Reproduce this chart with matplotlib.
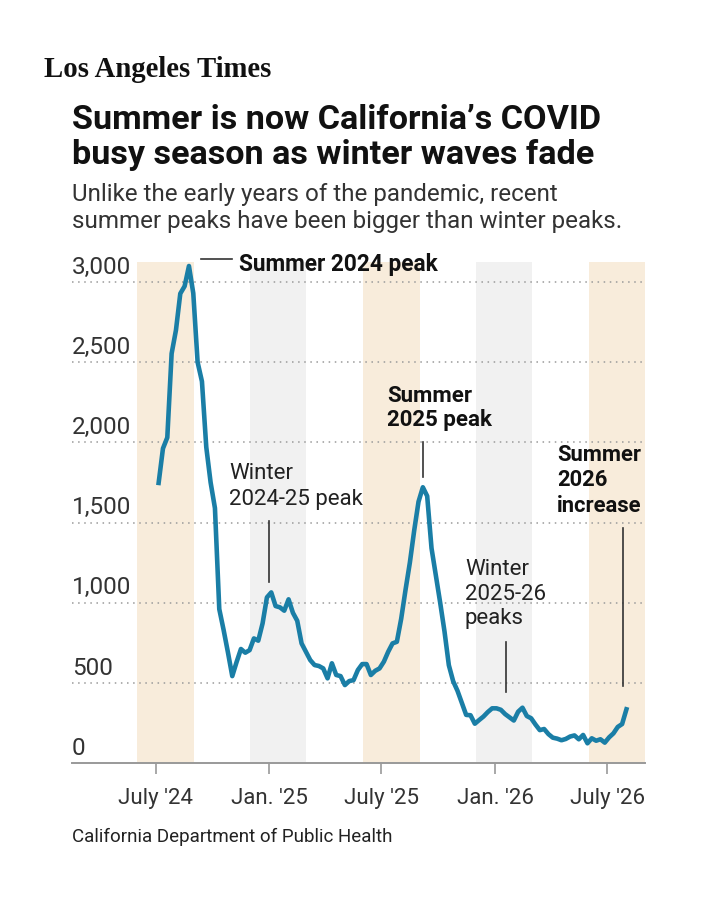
import pandas as pd
import matplotlib
matplotlib.use('Agg')
import matplotlib.pyplot as plt
from matplotlib.lines import Line2D

plt.rcParams['font.family'] = ['Roboto', 'DejaVu Sans']

# weekly COVID values
start_week = '2024-07-06'
covid_values = [
    1747, 1962, 2030, 2554, 2700, 2928, 2974, 3100, 2930, 2500,
    2380, 1970, 1750, 1590, 960, 830, 690, 542, 630, 711,
    688, 704, 777, 763, 871, 1033, 1064, 979, 971, 950,
    1021, 937, 887, 746, 694, 642, 611, 605, 590, 528,
    622, 549, 542, 486, 511, 517, 580, 617, 617, 549,
    575, 590, 632, 694, 746, 756, 900, 1080, 1250, 1450,
    1630, 1720, 1665, 1340, 1170, 1000, 820, 610, 510, 450,
    375, 300, 298, 245, 268, 290, 318, 341, 341, 332,
    305, 285, 265, 320, 345, 293, 279, 240, 205, 212,
    180, 158, 152, 142, 150, 165, 172, 148, 175, 123,
    154, 139, 148, 127, 160, 185, 225, 243, 335,
]
dates = pd.date_range(start_week, periods=len(covid_values), freq='7D')

summer_spans = [('2024-06-01', '2024-09-01'), ('2025-06-01', '2025-09-01'), ('2026-06-01', '2026-09-01')]
winter_spans = [('2024-12-01', '2025-03-01'), ('2025-12-01', '2026-03-01')]

x_ticks = ['2024-07-01', '2025-01-01', '2025-07-01', '2026-01-01', '2026-07-01']
x_tick_labels = ["July '24", "Jan. '25", "July '25", "Jan. '26", "July '26"]
y_ticks = [0, 500, 1000, 1500, 2000, 2500, 3000]
y_tick_labels = ['0', '500', '1,000', '1,500', '2,000', '2,500', '3,000']

W, H = 720, 900
fig = plt.figure(figsize=(W / 100, H / 100), dpi=100, facecolor='white')

def fx(x):
    return x / W

def fy(y):
    return 1 - y / H

def line_text(x, y, s, **kw):
    fig.text(fx(x), fy(y), s, va='baseline', ha='left', **kw)

def leader(x0, y0, x1, y1):
    fig.add_artist(Line2D([fx(x0), fx(x1)], [fy(y0), fy(y1)], color='#333333', lw=1.2))

# axes placed in pixel terms
left, right, top, bottom = 72, 645, 262, 763
ax = fig.add_axes([fx(left), fy(bottom), (right - left) / W, (bottom - top) / H])

for a, b in summer_spans:
    ax.axvspan(pd.Timestamp(a), pd.Timestamp(b), color='#f8ecdb', lw=0, zorder=0)
for a, b in winter_spans:
    ax.axvspan(pd.Timestamp(a), pd.Timestamp(b), color='#f1f1f1', lw=0, zorder=0)

for v in y_ticks[1:]:
    ax.axhline(v, color='#9a9a9a', lw=1.1, linestyle=(0, (1, 3)), zorder=1)

ax.plot(dates, covid_values, color='#1a7ea6', lw=3.3, zorder=3, clip_on=False)

ax.set_xlim(pd.Timestamp('2024-02-17'), pd.Timestamp('2026-08-31'))
ax.set_ylim(0, 3125)

for side in ['top', 'left', 'right']:
    ax.spines[side].set_visible(False)
ax.spines['bottom'].set_color('#999999')
ax.spines['bottom'].set_linewidth(1.4)
ax.set_yticks([])
ax.set_xticks([pd.Timestamp(t) for t in x_ticks])
ax.set_xticklabels(x_tick_labels, fontsize=16, color='#333333')
ax.tick_params(axis='x', length=8, width=1.2, color='#999999', pad=10)
ax.set_facecolor('white')

for v, lab in zip(y_ticks, y_tick_labels):
    ax.annotate(lab, xy=(0, v), xycoords=('axes fraction', 'data'),
                xytext=(0, 6), textcoords='offset points',
                fontsize=17.5, color='#333333', va='baseline', ha='left')

# header
line_text(44, 77, 'Los Angeles Times', fontsize=20.7, fontweight='bold',
          family=['Liberation Serif', 'DejaVu Serif'], color='#111111')
line_text(72, 129, 'Summer is now California\u2019s COVID', fontsize=24.6, fontweight='bold', color='#111111')
line_text(72, 164, 'busy season as winter waves fade', fontsize=24.6, fontweight='bold', color='#111111')
line_text(72, 201, 'Unlike the early years of the pandemic, recent', fontsize=17.4, color='#333333')
line_text(72, 228, 'summer peaks have been bigger than winter peaks.', fontsize=17.4, color='#333333')
line_text(72, 842, 'California Department of Public Health', fontsize=13.5, color='#222222')

# annotations
line_text(239, 271, 'Summer 2024 peak', fontsize=16.3, fontweight='bold', color='#111111')
leader(200.7, 259, 231.7, 259)

line_text(229, 479, 'Winter', fontsize=16, color='#222222')
line_text(229, 505, '2024-25 peak', fontsize=16, color='#222222')
leader(269, 521, 269, 582)

line_text(387, 402, 'Summer', fontsize=16, fontweight='bold', color='#111111')
line_text(387, 426, '2025 peak', fontsize=16, fontweight='bold', color='#111111')
leader(422.7, 442, 422.7, 477)

line_text(465, 575, 'Winter', fontsize=16, color='#222222')
line_text(465, 600, '2025-26', fontsize=16, color='#222222')
line_text(465, 624, 'peaks', fontsize=16, color='#222222')
leader(506, 642, 506, 692)

line_text(557, 461, 'Summer', fontsize=15.8, fontweight='bold', color='#111111')
line_text(557, 486, '2026', fontsize=15.8, fontweight='bold', color='#111111')
line_text(557, 512, 'increase', fontsize=15.8, fontweight='bold', color='#111111')
leader(622.7, 528, 622.7, 686)

fig.savefig('out.png', dpi=100, facecolor='white')
